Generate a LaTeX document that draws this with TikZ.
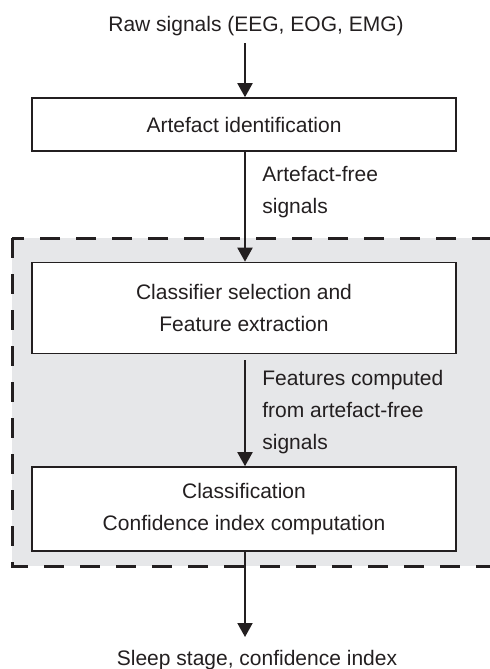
\documentclass[tikz,border=0pt]{standalone}
\usepackage{fontspec}
\setmainfont{Liberation Sans}
\usetikzlibrary{arrows.meta}
\definecolor{ink}{HTML}{231F20}
\definecolor{shade}{HTML}{E6E7E9}
\begin{document}
\begin{tikzpicture}[x=0.5pt,y=-0.5pt,
  every node/.style={text=ink,font=\fontsize{10.5}{16}\selectfont},
  procbox/.style={draw=ink,line width=0.8pt,fill=white,minimum width=212pt,align=center,inner sep=0pt},
  flow/.style={draw=ink,line width=1pt,-{Triangle[width=7.5pt,length=7pt]}},
  lbl/.style={anchor=west,align=left,inner sep=0pt}]
\useasboundingbox (0,0) rectangle (490,669);
% shaded dashed region
\filldraw[fill=shade,draw=ink,line width=1.5pt,dash pattern=on 10pt off 8pt]
  (12,238) rectangle (500,566);
% boxes
\node[procbox,minimum height=26.5pt] (b1) at (244,124.5) {Artefact identification};
\node[procbox,minimum height=45.5pt] (b2) at (244,308) {Classifier selection and\\Feature extraction};
\node[procbox,minimum height=42pt] (b3) at (244,509) {Classification\\Confidence index computation};
% terminal texts
\node[inner sep=0pt] (raw) at (256,26) {Raw signals (EEG, EOG, EMG)};
\node[inner sep=0pt,anchor=base] (out) at (257,665) {Sleep stage, confidence index};
\coordinate (rawend) at (245,43);
\coordinate (outend) at (245,637);
% labels
\node[lbl] (l1) at (262,192) {Artefact-free\\signals};
\node[lbl] (l2) at (262,412) {Features computed\\from artefact-free\\signals};
% connectors
\draw[flow] (rawend) -- (b1.north -| rawend);
\draw[flow] (b1.south -| rawend) -- (b2.north -| rawend);
\draw[flow,shorten <=3pt] (b2.south -| rawend) -- (b3.north -| rawend);
\draw[flow] (b3.south -| rawend) -- (outend);
\end{tikzpicture}
\end{document}
